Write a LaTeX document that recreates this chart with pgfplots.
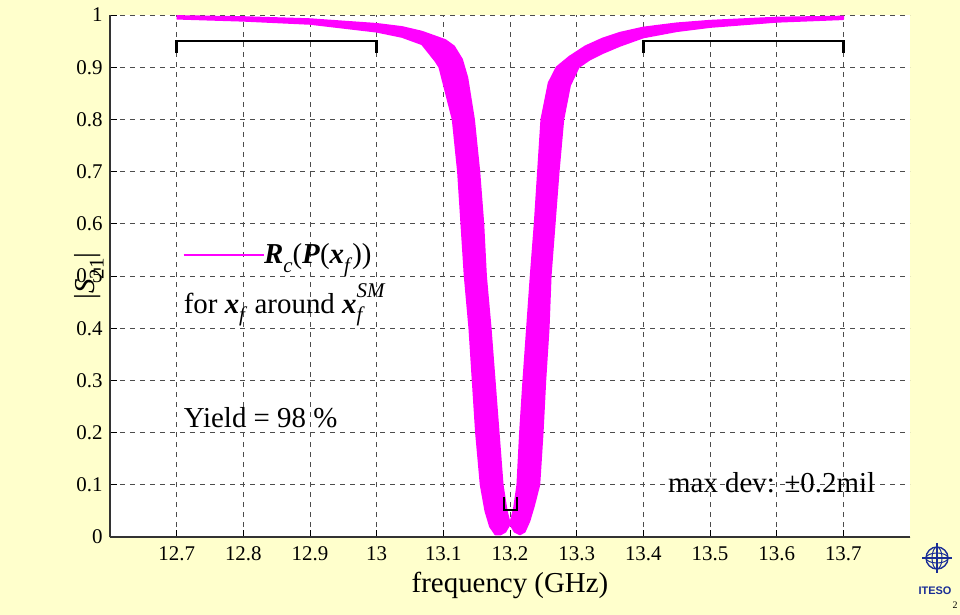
\documentclass[border=0pt]{standalone}
\usepackage{fontspec}
\setmainfont{Liberation Serif}
\setsansfont{Liberation Sans}
\usepackage{pgfplots}
\pgfplotsset{compat=1.18}
\definecolor{bgcream}{RGB}{255,255,204}
\definecolor{itesoblue}{RGB}{25,45,150}
\definecolor{mag}{RGB}{255,0,255}

\newcommand\bigtxt{\fontsize{29}{33}\selectfont}
\newcommand\sub[1]{\raisebox{-0.3em}{\fontsize{21}{23}\selectfont #1}}
\newcommand\supr[1]{\raisebox{0.55em}{\fontsize{21}{23}\selectfont #1}}

\begin{document}
\begin{tikzpicture}
\fill[bgcream] (-110bp,-78bp) rectangle (850bp,537bp);
\begin{axis}[
  scale only axis, width=800bp, height=522bp,
  xmin=12.6, xmax=13.8, ymin=0, ymax=1,
  xtick={12.7,12.8,12.9,13,13.1,13.2,13.3,13.4,13.5,13.6,13.7},
  ytick={0,0.1,0.2,0.3,0.4,0.5,0.6,0.7,0.8,0.9,1},
  axis x line*=bottom, axis y line*=left,
  axis line style={black!80, line width=1.2bp},
  axis background/.style={fill=white},
  tick align=inside, major tick length=7bp,
  tick style={black, line width=0.8bp},
  grid=major,
  grid style={black!70, dash pattern=on 5bp off 5bp, line width=0.8bp},
  /pgf/number format/.cd, fixed, precision=1, assume math mode=true, /pgfplots/.cd,
  ticklabel style={font=\fontsize{21}{24}\selectfont},
  yticklabel style={xshift=-4bp},
  xticklabel style={yshift=-6bp},
  xlabel={frequency (GHz)},
  ylabel={|\textit{S}\sub{21}|},
  every axis x label/.style={at={(axis description cs:0.5,-0.092)}, anchor=center, font=\bigtxt},
  every axis y label/.style={at={(axis description cs:-0.026,0.5)}, rotate=90, anchor=center, font=\bigtxt},
  clip=true,
]
% band of responses: lower-left boundary out, upper-right boundary back
\addplot[draw=mag, fill=mag, line width=1.8bp, line join=round] coordinates {
  (12.70,0.993) (12.80,0.989) (12.90,0.983) (13.00,0.968) (13.038,0.958)
  (13.068,0.944) (13.088,0.912) (13.094,0.90) (13.104,0.85) (13.114,0.80)
  (13.122,0.70) (13.127,0.60) (13.132,0.50) (13.139,0.40) (13.144,0.30)
  (13.149,0.20) (13.156,0.10) (13.163,0.05) (13.170,0.02) (13.178,0.005)
  (13.186,0.005) (13.193,0.01) (13.200,0.025) (13.206,0.055) (13.211,0.10)
  (13.215,0.20) (13.220,0.30) (13.2255,0.40) (13.231,0.50) (13.237,0.60)
  (13.242,0.70) (13.247,0.80) (13.258,0.87) (13.270,0.90) (13.289,0.92)
  (13.313,0.940) (13.339,0.955) (13.365,0.966) (13.40,0.976) (13.45,0.984)
  (13.50,0.989) (13.60,0.995) (13.70,0.997)
  (13.70,0.992) (13.60,0.987) (13.50,0.977) (13.45,0.969) (13.40,0.957)
  (13.365,0.941) (13.339,0.927) (13.320,0.915) (13.303,0.90) (13.290,0.865)
  (13.280,0.80) (13.273,0.70) (13.267,0.60) (13.261,0.50) (13.258,0.40)
  (13.253,0.30) (13.249,0.20) (13.244,0.10) (13.236,0.06) (13.229,0.03)
  (13.222,0.01) (13.215,0.005) (13.207,0.01) (13.200,0.025) (13.195,0.05)
  (13.189,0.10) (13.183,0.20) (13.177,0.30) (13.171,0.40) (13.164,0.50)
  (13.160,0.60) (13.154,0.70) (13.146,0.80) (13.136,0.88) (13.128,0.915)
  (13.116,0.940) (13.103,0.952) (13.068,0.968) (13.038,0.977) (13.00,0.983)
  (12.90,0.992) (12.80,0.996) (12.70,0.998)};

% spec brackets
\addplot[black, line width=2.5bp] coordinates {(12.7,0.927) (12.7,0.95) (13.0,0.95) (13.0,0.927)};
\addplot[black, line width=2.5bp] coordinates {(13.4,0.927) (13.4,0.95) (13.7,0.95) (13.7,0.927)};
\addplot[black, line width=1.8bp] coordinates {(13.1905,0.077) (13.1905,0.052) (13.2105,0.052) (13.2105,0.077)};

% legend-like annotation
\addplot[mag, line width=2.5bp] coordinates {(12.7105,0.540) (12.8308,0.540)};
\node[anchor=base west, inner sep=0pt, font=\bigtxt] at (axis cs:12.8308,0.523)
  {\textbf{\textit{R}}\sub{\textit{c}}(\textbf{\textit{P}}(\textbf{\textit{x}}\sub{\textit{f}}))};
\node[anchor=base west, inner sep=0pt, font=\bigtxt] at (axis cs:12.7105,0.429)
  {for \textbf{\textit{x}}\sub{\textit{f}} around \textbf{\textit{x}}\rlap{\supr{\textit{SM}}}\sub{\textit{f}}};
\node[anchor=base west, inner sep=0pt, font=\bigtxt] at (axis cs:12.7105,0.209) {Yield = 98 \%};
\node[anchor=base west, inner sep=0pt, font=\bigtxt] at (axis cs:13.437,0.086) {max dev: ±0.2mil};
\end{axis}

% ITESO logo (approximation)
\draw[itesoblue, line width=1.4bp] (827bp,-21bp) circle (11bp);
\draw[itesoblue, line width=1bp] (827bp,-21bp) ellipse (11bp and 5bp);
\draw[itesoblue, line width=1bp] (827bp,-21bp) ellipse (5bp and 11bp);
\draw[itesoblue, line width=1.2bp] (812bp,-21bp) -- (842bp,-21bp) (827bp,-6bp) -- (827bp,-36bp);
\node[itesoblue, font=\sffamily\bfseries\fontsize{11}{12}\selectfont] at (825bp,-54bp) {ITESO};
\node[font=\fontsize{10}{11}\selectfont] at (845bp,-68bp) {2};

\pgfresetboundingbox
\useasboundingbox (-110bp,-78bp) rectangle (850bp,537bp);
\end{tikzpicture}
\end{document}
